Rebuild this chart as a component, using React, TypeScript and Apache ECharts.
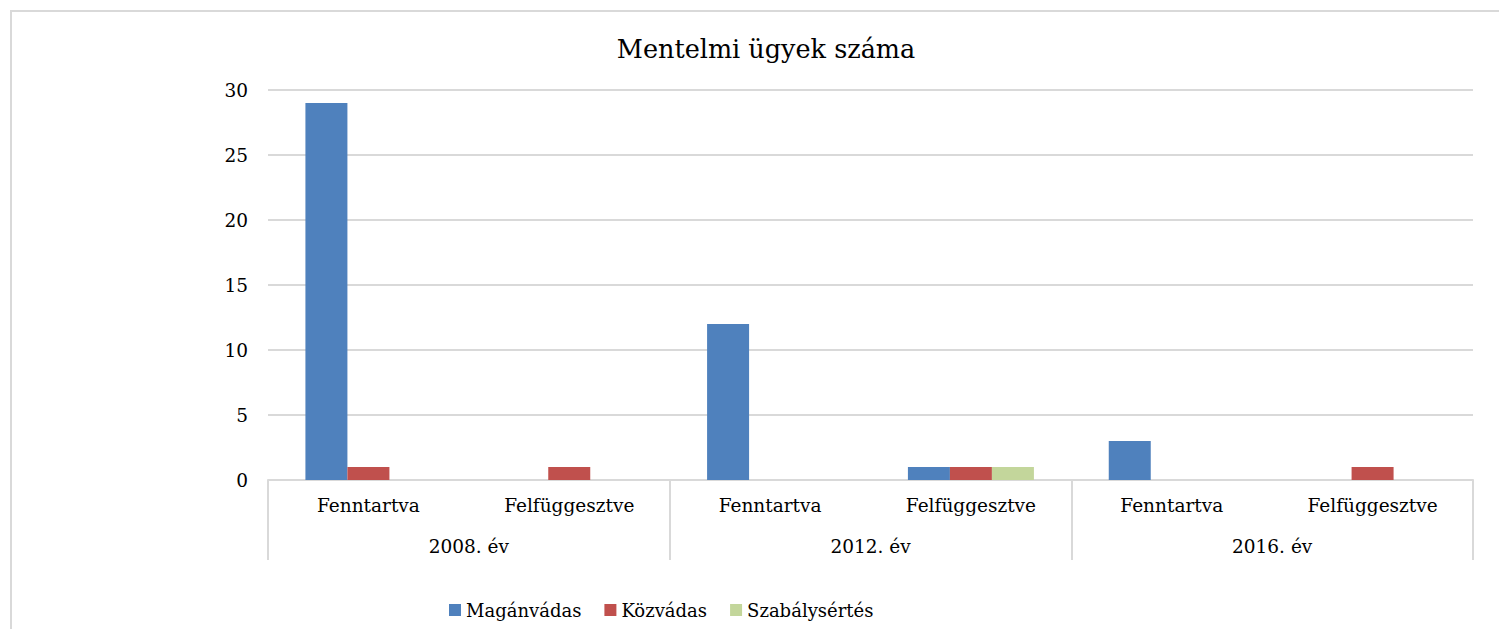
import React, { useEffect, useRef } from "react";
import * as echarts from "echarts";

const leafCategories = ["Fenntartva", "Felfüggesztve", "Fenntartva", "Felfüggesztve", "Fenntartva", "Felfüggesztve"];
const groupCategories = ["2008. év", "2012. év", "2016. év"];
const maganvadas = [29, 0, 12, 1, 3, 0];
const kozvadas = [1, 1, 0, 1, 0, 1];
const szabalysertes = [0, 0, 0, 1, 0, 0];
const yTicks = [0, 5, 10, 15, 20, 25, 30];

const FONT = "DejaVu Serif";

export default function App() {
  const ref = useRef<HTMLDivElement>(null);
  useEffect(() => {
    const chart = echarts.init(ref.current!, null, { renderer: "svg" });
    const mk = (name: string, data: number[], color: string) => ({
      name,
      type: "bar",
      data,
      barWidth: 42,
      barGap: "0%",
      itemStyle: { color },
      xAxisIndex: 0,
      yAxisIndex: 0,
    });
    chart.setOption({
      animation: false,
      textStyle: { fontFamily: FONT, color: "#000" },
      title: {
        text: "Mentelmi ügyek száma",
        left: 761,
        textAlign: "center",
        top: 31,
        textStyle: { fontFamily: FONT, fontSize: 25.5, fontWeight: "normal", color: "#000" },
      },
      graphic: [
        {
          type: "rect",
          shape: { x: 11, y: 11, width: 1530, height: 640 },
          style: { fill: "none", stroke: "#d9d9d9", lineWidth: 2 },
          silent: true,
        },
      ],
      legend: {
        left: 444,
        top: 596,
        itemWidth: 12,
        itemHeight: 12,
        itemGap: 23,
        icon: "rect",
        textStyle: { fontFamily: FONT, fontSize: 18, color: "#000" },
        data: ["Magánvádas", "Közvádas", "Szabálysértés"],
      },
      grid: { left: 268, right: 26, top: 90, bottom: 149, containLabel: false },
      xAxis: [
        {
          type: "category",
          data: leafCategories,
          position: "bottom",
          axisLine: { lineStyle: { color: "#d9d9d9", width: 2 } },
          axisTick: { show: false },
          axisLabel: { fontFamily: FONT, fontSize: 18.5, color: "#000", margin: 16, interval: 0 },
        },
        {
          type: "category",
          data: groupCategories,
          position: "bottom",
          axisLine: { show: false },
          axisTick: { show: true, length: 80, lineStyle: { color: "#d9d9d9", width: 2 } },
          axisLabel: { fontFamily: FONT, fontSize: 18.5, color: "#000", margin: 57, interval: 0 },
        },
      ],
      yAxis: {
        type: "value",
        min: 0,
        max: 30,
        interval: 5,
        axisLine: { show: false },
        axisTick: { show: false },
        axisLabel: {
          fontFamily: FONT,
          fontSize: 18.5,
          color: "#000",
          margin: 20,
          formatter: (v: number) => (yTicks.includes(v) ? String(v) : ""),
        },
        splitLine: { lineStyle: { color: "#d9d9d9", width: 2 } },
      },
      series: [
        mk("Magánvádas", maganvadas, "#4F81BD"),
        mk("Közvádas", kozvadas, "#C0504D"),
        mk("Szabálysértés", szabalysertes, "#C3D69B"),
      ],
    });
    return () => chart.dispose();
  }, []);
  return (
    <div
      ref={ref}
      style={{ position: "fixed", left: 0, top: 0, width: 1499, height: 629, background: "#fff" }}
    />
  );
}
